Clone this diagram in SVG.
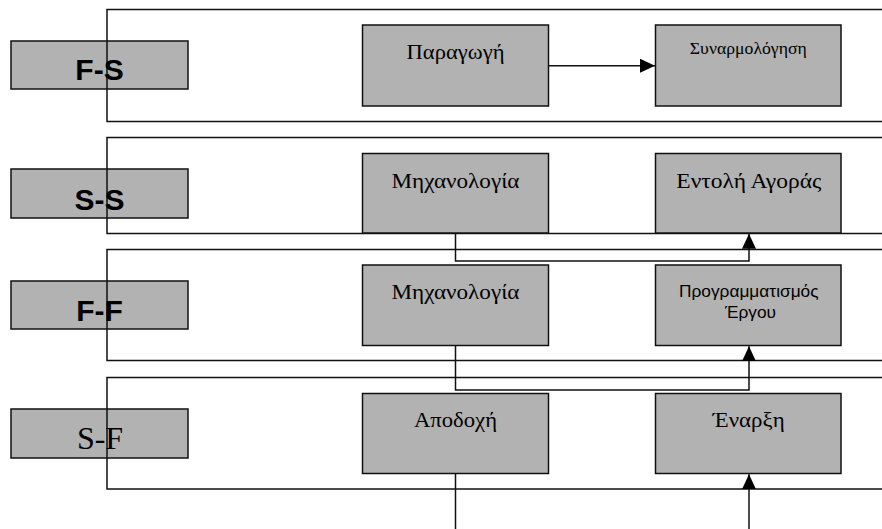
<svg xmlns="http://www.w3.org/2000/svg" width="882" height="529" viewBox="0 0 882 529">
  <style>
    .lane { fill: none; stroke: #111; stroke-width: 1.5; }
    .tag { fill: #b2b2b2; stroke: #111; stroke-width: 1.5; }
    .box { fill: #b2b2b2; stroke: #111; stroke-width: 1.5; }
    .tagb { font-family: "Liberation Sans", Arial, sans-serif; font-weight: bold; font-size: 30px; fill: #000; text-anchor: middle; }
    .tags { font-family: "Liberation Serif", "Times New Roman", serif; font-size: 32px; fill: #000; text-anchor: middle; }
    .serif { font-family: "Liberation Serif", "Times New Roman", serif; font-size: 22px; fill: #000; text-anchor: middle; }
    .serif-sm { font-family: "Liberation Serif", "Times New Roman", serif; font-size: 16px; fill: #000; text-anchor: middle; }
    .sans { font-family: "Liberation Sans", Arial, sans-serif; font-size: 17.3px; fill: #000; text-anchor: middle; }
    .wire { fill: none; stroke: #111; stroke-width: 1.5; }
  </style>
  <defs>
    <marker id="head" markerUnits="userSpaceOnUse" markerWidth="15" markerHeight="14" refX="15" refY="7" orient="auto">
      <path d="M0,0 L15,7 L0,14 z" fill="#000"/>
    </marker>
  </defs>

  <rect width="882" height="529" fill="#fff"/>

  <!-- Lane F-S -->
  <g id="lane-fs">
    <rect class="tag" x="11" y="41" width="177" height="48"/>
    <rect class="lane" x="107" y="9.5" width="800" height="112"/>
    <text class="tagb" x="99.5" y="80">F-S</text>
  </g>
  <!-- Lane S-S -->
  <g id="lane-ss">
    <rect class="tag" x="11" y="169" width="177" height="49"/>
    <rect class="lane" x="107" y="137.5" width="800" height="96"/>
    <text class="tagb" x="99.5" y="209.5">S-S</text>
  </g>
  <!-- Lane F-F -->
  <g id="lane-ff">
    <rect class="tag" x="11" y="281" width="177" height="48"/>
    <rect class="lane" x="107" y="249.5" width="800" height="111"/>
    <text class="tagb" x="99.5" y="320.7">F-F</text>
  </g>
  <!-- Lane S-F -->
  <g id="lane-sf">
    <rect class="tag" x="11" y="409" width="177" height="49"/>
    <rect class="lane" x="107" y="377.5" width="800" height="111.5"/>
    <text class="tags" x="100" y="448.5">S-F</text>
  </g>

  <!-- Activities -->
  <g id="paragogi">
    <rect class="box" x="362.5" y="25" width="186" height="81"/>
    <text class="serif" x="455.5" y="58.5" textLength="98" lengthAdjust="spacingAndGlyphs">Παραγωγή</text>
  </g>
  <g id="synarmologisi">
    <rect class="box" x="655.5" y="25" width="185.5" height="81"/>
    <text class="serif-sm" x="748.3" y="53.5" textLength="117" lengthAdjust="spacingAndGlyphs">Συναρμολόγηση</text>
  </g>
  <g id="michanologia-ss">
    <rect class="box" x="362.5" y="153.5" width="186" height="79.5"/>
    <text class="serif" x="455.5" y="187.5" textLength="128" lengthAdjust="spacingAndGlyphs">Μηχανολογία</text>
  </g>
  <g id="entoli-agoras">
    <rect class="box" x="655.5" y="153.5" width="185.5" height="79.5"/>
    <text class="serif" x="748.8" y="187.5" textLength="145" lengthAdjust="spacingAndGlyphs">Εντολή Αγοράς</text>
  </g>
  <g id="michanologia-ff">
    <rect class="box" x="362.5" y="265" width="186" height="80.5"/>
    <text class="serif" x="455.5" y="299" textLength="128" lengthAdjust="spacingAndGlyphs">Μηχανολογία</text>
  </g>
  <g id="programmatismos">
    <rect class="box" x="655.5" y="265" width="185.5" height="80.5"/>
    <text class="sans" x="748.8" y="296.7">Προγραμματισμός</text>
    <text class="sans" x="750.5" y="317.7">Έργου</text>
  </g>
  <g id="apodochi">
    <rect class="box" x="362.5" y="393.5" width="186" height="80"/>
    <text class="serif" x="455.5" y="427.3" textLength="83" lengthAdjust="spacingAndGlyphs">Αποδοχή</text>
  </g>
  <g id="enarxi">
    <rect class="box" x="655.5" y="393.5" width="185.5" height="80"/>
    <text class="serif" x="748.8" y="427.3" textLength="72" lengthAdjust="spacingAndGlyphs">Έναρξη</text>
  </g>

  <!-- Connectors -->
  <g id="connectors">
    <path class="wire" d="M548.5,65.7 H655" marker-end="url(#head)"/>
    <path class="wire" d="M455.5,233 V261 H749 V233.8" marker-end="url(#head)"/>
    <path class="wire" d="M455.5,345.5 V390 H749 V346.3" marker-end="url(#head)"/>
    <path class="wire" d="M455.5,473.5 V530"/>
    <path class="wire" d="M749,530 V474.3" marker-end="url(#head)"/>
  </g>
</svg>
